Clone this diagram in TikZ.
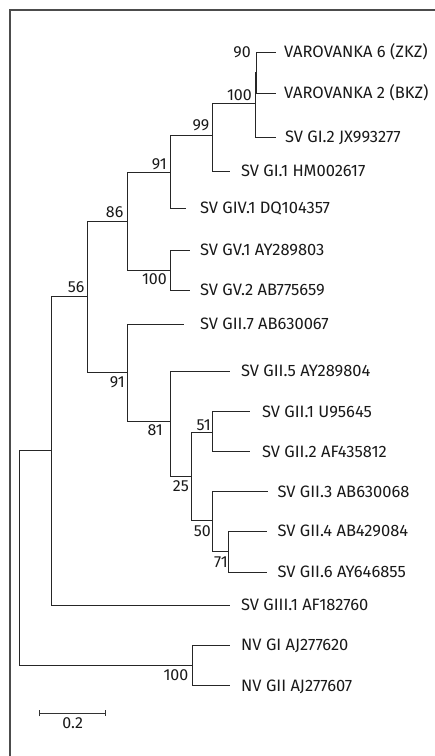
\documentclass[tikz,border=0pt]{standalone}
\usepackage{fontspec}
\setmainfont{Fira Sans}
\usetikzlibrary{arrows.meta, positioning}

\begin{document}
\begin{tikzpicture}[
    x=1pt, y=-1pt,
    branch/.style={draw=black!85, line width=0.9pt},
    taxon/.style={anchor=base west, inner sep=0pt, yshift=-5.6pt, font=\fontsize{16.5}{18}\selectfont, text=black!90},
    boot/.style={anchor=base east, inner sep=0pt, yshift=-5.6pt, font=\fontsize{16}{18}\selectfont, text=black!90},
    frame/.style={draw=black!70, line width=1.3pt},
    scalebar/.style={draw=black!80, line width=0.9pt, {Bar[width=6pt]}-{Bar[width=6pt]}}
]
\useasboundingbox (0,0) rectangle (435,756);

% Frame
\coordinate (fbl) at (10,756);
\coordinate (ftl) at (10,10);
\coordinate (ftr) at (435,10);
\draw[frame] (fbl) -- (ftl) -- (ftr);

% Internal nodes
\coordinate (root) at (19,558);
\coordinate (nGIII) at (51.7,450.5);
\coordinate (n56) at (87.3,296);
\coordinate (n86) at (127.3,221.7);
\coordinate (n91a) at (170,172.3);
\coordinate (n99) at (212.7,135);
\coordinate (n100a) at (255,103);
\coordinate (nV) at (256.5,72.5);
\coordinate (nGV) at (170.7,270);
\coordinate (n91b) at (127.7,372.7);
\coordinate (n81) at (170.7,421.7);
\coordinate (n25) at (191.7,476);
\coordinate (n51) at (212.7,432);
\coordinate (n50) at (212.7,520.7);
\coordinate (n71) at (228.7,551.8);
\coordinate (nNV) at (192.7,665.7);

% Leaf tips
\coordinate (tV6) at (276,52);
\coordinate (tV2) at (276,93);
\coordinate (tGI2) at (276,137);
\coordinate (tGI1) at (230,171);
\coordinate (tGIV1) at (186,208.3);
\coordinate (tGV1) at (190,250);
\coordinate (tGV2) at (190,290);
\coordinate (tGII7) at (184.3,324);
\coordinate (tGII5) at (230,371);
\coordinate (tGII1) at (250,411.7);
\coordinate (tGII2) at (250,451.7);
\coordinate (tGII3) at (267.7,491.7);
\coordinate (tGII4) at (267,531);
\coordinate (tGII6) at (267,572);
\coordinate (tGIII1) at (230,605);
\coordinate (tNVGI) at (230,645);
\coordinate (tNVGII) at (230,685.7);

% Taxa
\node[taxon] (v6) at (284,52) {VAROVANKA 6 (ZKZ)};
\node[taxon] (v2) at (284,93) {VAROVANKA 2 (BKZ)};
\node[taxon] (gi2) at (285,137) {SV GI.2 JX993277};
\node[taxon] (gi1) at (241,171) {SV GI.1 HM002617};
\node[taxon] (giv1) at (200,208.3) {SV GIV.1 DQ104357};
\node[taxon] (gv1) at (200,250) {SV GV.1 AY289803};
\node[taxon] (gv2) at (200,290) {SV GV.2 AB775659};
\node[taxon] (gii7) at (200,324) {SV GII.7 AB630067};
\node[taxon] (gii5) at (241,371) {SV GII.5 AY289804};
\node[taxon] (gii1) at (262,411.7) {SV GII.1 U95645};
\node[taxon] (gii2) at (262,451.7) {SV GII.2 AF435812};
\node[taxon] (gii3) at (277.5,491.7) {SV GII.3 AB630068};
\node[taxon] (gii4) at (277.5,531) {SV GII.4 AB429084};
\node[taxon] (gii6) at (277.5,572) {SV GII.6 AY646855};
\node[taxon] (giii1) at (241,605) {SV GIII.1 AF182760};
\node[taxon] (nvgi) at (241,645) {NV GI AJ277620};
\node[taxon] (nvgii) at (241,685.7) {NV GII AJ277607};

% Branches
\draw[branch] (root) |- (nGIII);
\draw[branch] (root) |- (nNV);
\draw[branch] (nGIII) |- (n56);
\draw[branch] (nGIII) |- (tGIII1);
\draw[branch] (n56) |- (n86);
\draw[branch] (n56) |- (n91b);
\draw[branch] (n86) |- (n91a);
\draw[branch] (n86) |- (nGV);
\draw[branch] (n91a) |- (n99);
\draw[branch] (n91a) |- (tGIV1);
\draw[branch] (n99) |- (n100a);
\draw[branch] (n99) |- (tGI1);
\draw[branch] (n100a) |- (nV);
\draw[branch] (n100a) |- (tGI2);
\draw[branch] (nV) |- (tV6);
\draw[branch] (nV) |- (tV2);
\draw[branch] (nGV) |- (tGV1);
\draw[branch] (nGV) |- (tGV2);
\draw[branch] (n91b) |- (tGII7);
\draw[branch] (n91b) |- (n81);
\draw[branch] (n81) |- (tGII5);
\draw[branch] (n81) |- (n25);
\draw[branch] (n25) |- (n51);
\draw[branch] (n25) |- (n50);
\draw[branch] (n51) |- (tGII1);
\draw[branch] (n51) |- (tGII2);
\draw[branch] (n50) |- (tGII3);
\draw[branch] (n50) |- (n71);
\draw[branch] (n71) |- (tGII4);
\draw[branch] (n71) |- (tGII6);
\draw[branch] (nNV) |- (tNVGI);
\draw[branch] (nNV) |- (tNVGII);

% Bootstrap values
\node[boot] (b90) at (251,52) {90};
\node[boot] (b100a) at (252,95) {100};
\node[boot] (b99) at (209.5,125) {99};
\node[boot] (b91a) at (167,163.5) {91};
\node[boot] (b86) at (123.5,211.5) {86};
\node[boot] (b100gv) at (167,279) {100};
\node[boot] (b56) at (84.5,286.7) {56};
\node[boot] (b91b) at (125,381.7) {91};
\node[boot] (b81) at (163,430) {81};
\node[boot] (b51) at (211,425) {51};
\node[boot] (b25) at (189,486) {25};
\node[boot] (b50) at (211,531) {50};
\node[boot] (b71) at (228,561.7) {71};
\node[boot] (b100nv) at (188.5,675) {100};

% Scale bar
\coordinate (sbl) at (39.3,713.3);
\coordinate (sbr) at (106,713.3);
\draw[scalebar] (sbl) -- (sbr);
\node[boot, anchor=base] (sblabel) at (72.7,722.5) {0.2};

\end{tikzpicture}
\end{document}
